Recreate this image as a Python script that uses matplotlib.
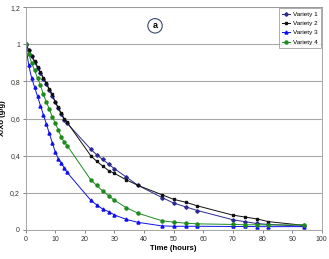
import matplotlib.pyplot as plt
from matplotlib.ticker import FuncFormatter

plt.rcParams['font.family'] = ['Liberation Sans', 'DejaVu Sans']

# drying time (hours)
time = [0, 1, 2, 3, 4, 5, 6, 7, 8, 9, 10, 11, 12, 13, 14,
        22, 24, 26, 28, 30, 34, 38, 46, 50, 54, 58, 70, 74, 78, 82, 94]

variety1 = [1.0, 0.97, 0.935, 0.905, 0.875, 0.845, 0.815, 0.785, 0.755, 0.72, 0.69, 0.655, 0.625, 0.595, 0.575,
            0.435, 0.405, 0.38, 0.355, 0.33, 0.285, 0.24, 0.175, 0.145, 0.125, 0.105, 0.055, 0.045, 0.035, 0.03, 0.02]
variety2 = [1.0, 0.97, 0.94, 0.91, 0.88, 0.85, 0.82, 0.79, 0.76, 0.73, 0.69, 0.66, 0.63, 0.60, 0.58,
            0.40, 0.37, 0.345, 0.32, 0.305, 0.27, 0.24, 0.19, 0.165, 0.15, 0.13, 0.08, 0.07, 0.06, 0.045, 0.025]
variety3 = [1.0, 0.89, 0.82, 0.77, 0.72, 0.67, 0.62, 0.57, 0.52, 0.47, 0.42, 0.385, 0.36, 0.335, 0.31,
            0.16, 0.135, 0.113, 0.099, 0.081, 0.057, 0.041, 0.022, 0.02, 0.02, 0.02, 0.019, 0.019, 0.018, 0.018, 0.018]
variety4 = [1.0, 0.95, 0.90, 0.86, 0.82, 0.78, 0.73, 0.69, 0.65, 0.61, 0.575, 0.54, 0.50, 0.475, 0.455,
            0.27, 0.24, 0.21, 0.185, 0.16, 0.12, 0.09, 0.05, 0.042, 0.037, 0.033, 0.03, 0.028, 0.028, 0.027, 0.028]

fig = plt.figure(figsize=(3.29, 2.59), dpi=100)
ax = fig.add_axes([0.078, 0.112, 0.9, 0.86])

ax.plot(time, variety1, color='#2a2a90', marker='D', markersize=1.8, linewidth=0.7, label='Variety 1')
ax.plot(time, variety2, color='#111111', marker='s', markersize=2.0, linewidth=0.7, label='Variety 2')
ax.plot(time, variety3, color='#1010ee', marker='^', markersize=2.2, linewidth=0.7, label='Variety 3')
ax.plot(time, variety4, color='#1f8a1f', marker='o', markersize=2.2, linewidth=0.7, label='Variety 4')

ax.set_xlim(0, 100)
ax.set_ylim(0, 1.2)
ax.set_xticks(range(0, 101, 10))
ax.set_yticks([0, 0.2, 0.4, 0.6, 0.8, 1.0, 1.2])
ax.yaxis.set_major_formatter(FuncFormatter(lambda v, p: ('%g' % v).replace('.', ',')))
ax.tick_params(labelsize=5, length=2, width=0.5, colors='#555555', labelcolor='#333333', pad=2)
ax.grid(axis='y', color='#a8a8a8', linewidth=0.8)
for s in ax.spines.values():
    s.set_color('#999999')
    s.set_linewidth(0.6)

ax.set_xlabel('Time (hours)', fontsize=5.5, fontweight='bold', labelpad=2)
ax.set_ylabel('X/Xo (g/g)', fontsize=5.5, fontweight='bold', labelpad=3)

ax.text(43.7, 1.1, 'a', fontsize=6.5, fontweight='bold', ha='center', va='center',
        bbox=dict(boxstyle='circle,pad=0.3', facecolor='white', edgecolor='#3a4a6a', linewidth=0.8))

leg = ax.legend(loc='upper right', fontsize=4.6, frameon=True, fancybox=False,
                borderpad=0.5, labelspacing=0.6, handlelength=1.3, handletextpad=0.4,
                borderaxespad=0.15)
leg.get_frame().set_edgecolor('#888888')
leg.get_frame().set_linewidth(0.6)

plt.savefig('out.png', dpi=100)
